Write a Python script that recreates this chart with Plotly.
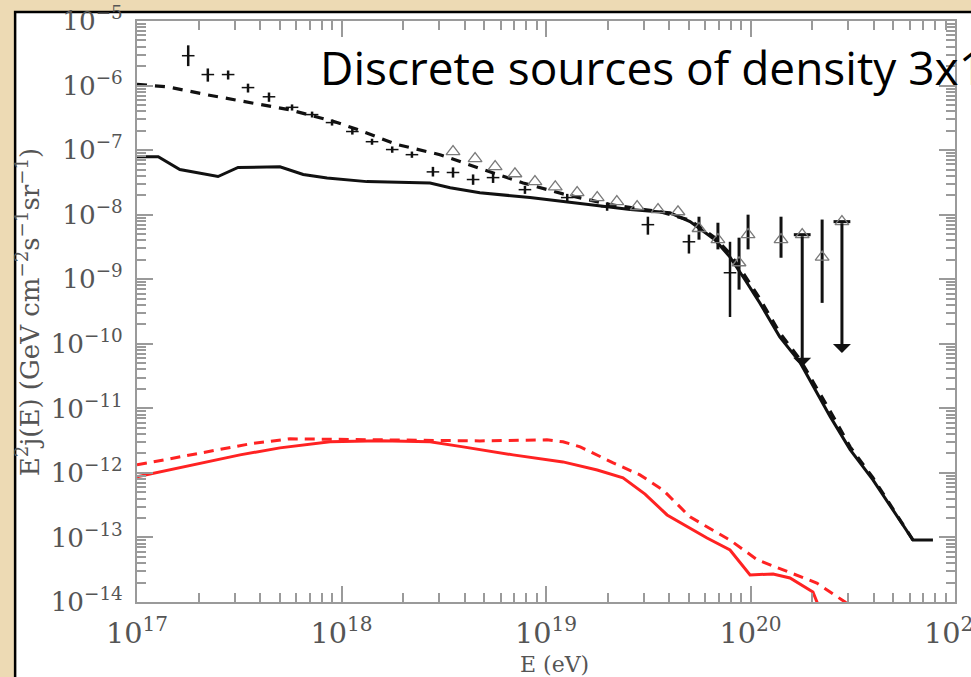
import numpy as np
import plotly.graph_objects as go

# ---------------- data ----------------
# black solid model
solid_E = [1.00e17, 1.27e17, 1.62e17, 2.49e17, 3.12e17, 5.0e17, 6.5e17, 8.5e17, 1.33e18,
           1.93e18, 2.71e18, 3.40e18, 4.75e18, 8.35e18, 1.47e19, 2.58e19, 4.04e19, 5.06e19,
           6.70e19, 7.94e19, 9.4e19, 1.11e20, 1.39e20, 1.75e20, 2.45e20, 3.07e20, 3.97e20,
           6.23e20, 7.8e20]
solid_F = [7.9e-8, 7.9e-8, 5.0e-8, 3.9e-8, 5.4e-8, 5.5e-8, 4.2e-8, 3.7e-8, 3.25e-8,
           3.15e-8, 3.1e-8, 2.62e-8, 2.19e-8, 1.84e-8, 1.48e-8, 1.20e-8, 1.07e-8, 7.8e-9,
           4.1e-9, 2.2e-9, 9.8e-10, 4.3e-10, 1.28e-10, 5.1e-11, 7.5e-12, 2.3e-12, 7.8e-13,
           9.1e-14, 9.1e-14]

# black dashed model
dashed_E = [1.00e17, 1.40e17, 2.20e17, 3.57e17, 5.6e17, 9.1e17, 1.19e18, 1.87e18, 3.03e18,
            4.92e18, 7.73e18, 1.21e19, 2.06e19, 3.61e19, 5.06e19, 6.70e19, 7.94e19, 9.4e19,
            1.11e20, 1.39e20, 1.75e20, 2.45e20, 3.07e20, 3.97e20, 6.23e20]
dashed_F = [1.04e-6, 9.6e-7, 7.2e-7, 5.4e-7, 4.2e-7, 2.8e-7, 2.1e-7, 1.22e-7, 8.5e-8,
            5.0e-8, 3.1e-8, 2.1e-8, 1.43e-8, 1.11e-8, 8.2e-9, 4.4e-9, 2.48e-9, 1.13e-9,
            5.0e-10, 1.48e-10, 5.65e-11, 9.1e-12, 2.53e-12, 8.4e-13, 9.1e-14]

# red solid model
red_solid_E = [1.00e17, 2.03e17, 3.19e17, 5.0e17, 8.79e17, 1.54e18, 2.71e18, 3.93e18, 6.90e18,
               1.21e19, 1.78e19, 2.38e19, 3.05e19, 3.91e19, 6.13e19, 7.94e19, 9.95e19, 1.29e20,
               1.56e20, 2.02e20, 2.24e20]
red_solid_F = [8.7e-13, 1.38e-12, 1.90e-12, 2.44e-12, 3.03e-12, 3.14e-12, 3.03e-12, 2.53e-12, 1.90e-12,
               1.48e-12, 1.11e-12, 8.4e-13, 4.7e-13, 2.23e-13, 9.8e-14, 6.4e-14, 2.62e-14, 2.72e-14,
               2.36e-14, 1.43e-14, 6.3e-15]

# red dashed model
red_dashed_E = [1.00e17, 2.03e17, 3.57e17, 5.6e17, 1.54e18, 4.75e18, 1.01e19, 1.21e19, 1.47e19,
                2.13e19, 2.88e19, 3.73e19, 5.06e19, 7.94e19, 1.08e20, 1.56e20, 2.11e20, 2.90e20,
                3.43e20]
red_dashed_F = [1.33e-12, 2.04e-12, 2.82e-12, 3.37e-12, 3.25e-12, 3.13e-12, 3.25e-12, 3.03e-12, 2.53e-12,
                1.43e-12, 9.3e-13, 5.45e-13, 2.08e-13, 9.1e-14, 4.5e-14, 2.82e-14, 1.97e-14, 1.0e-14,
                6.3e-15]

# data set 1 (crosses)
cross_E = [1.78e17, 2.22e17, 2.79e17, 3.49e17, 4.42e17, 5.73e17, 7.18e17, 8.99e17, 1.13e18,
           1.41e18, 1.77e18, 2.21e18, 2.80e18, 3.51e18, 4.40e18, 5.51e18, 7.89e18, 1.27e19,
           1.99e19, 3.15e19, 5.0e19, 7.94e19]
cross_F = [2.9e-6, 1.48e-6, 1.48e-6, 9.3e-7, 6.7e-7, 4.6e-7, 3.55e-7, 2.67e-7, 1.94e-7,
           1.35e-7, 1.02e-7, 8.5e-8, 4.6e-8, 4.5e-8, 3.5e-8, 3.75e-8, 2.44e-8, 1.84e-8,
           1.33e-8, 7.0e-9, 3.8e-9, 1.26e-9]
cross_hi = [4.2e-6, 1.84e-6, 1.71e-6, 1.07e-6, 7.8e-7, 5.1e-7, 3.95e-7, 2.97e-7, 2.16e-7,
            1.5e-7, 1.14e-7, 9.5e-8, 5.5e-8, 5.4e-8, 4.2e-8, 4.5e-8, 2.8e-8, 2.1e-8,
            1.55e-8, 9.3e-9, 4.9e-9, 3.8e-9]
cross_lo = [2.0e-6, 1.15e-6, 1.24e-6, 7.8e-7, 5.6e-7, 4.1e-7, 3.2e-7, 2.4e-7, 1.74e-7,
            1.21e-7, 9.1e-8, 7.6e-8, 3.9e-8, 3.75e-8, 2.9e-8, 3.1e-8, 2.1e-8, 1.6e-8,
            1.15e-8, 4.9e-9, 2.5e-9, 2.6e-10]

# data set 2 (open triangles)
tri_E = [3.51e18, 4.50e18, 5.64e18, 7.05e18, 8.83e18, 1.11e19, 1.42e19, 1.78e19, 2.22e19,
         2.79e19, 3.53e19, 4.42e19, 5.60e19, 6.93e19, 8.79e19, 9.73e19, 1.41e20, 2.24e20]
tri_F = [9.5e-8, 7.4e-8, 5.55e-8, 4.3e-8, 3.25e-8, 2.7e-8, 2.2e-8, 1.84e-8, 1.59e-8,
         1.33e-8, 1.2e-8, 1.11e-8, 6.1e-9, 4.1e-9, 1.8e-9, 4.9e-9, 4.1e-9, 2.2e-9]
tri_hi = [9.5e-8, 7.4e-8, 5.55e-8, 4.3e-8, 3.25e-8, 2.7e-8, 2.2e-8, 1.84e-8, 1.59e-8,
          1.33e-8, 1.2e-8, 1.11e-8, 9.3e-9, 7.5e-9, 4.4e-9, 1.0e-8, 9.3e-9, 8.4e-9]
tri_lo = [9.5e-8, 7.4e-8, 5.55e-8, 4.3e-8, 3.25e-8, 2.7e-8, 2.2e-8, 1.84e-8, 1.59e-8,
          1.33e-8, 1.2e-8, 1.11e-8, 4.1e-9, 2.9e-9, 6.9e-10, 2.9e-9, 2.15e-9, 4.3e-10]

# upper limits (triangle at top, arrow down)
ul_E = [1.79e20, 2.80e20]
ul_top = [4.9e-9, 7.8e-9]
ul_bottom = [4.4e-11, 7.2e-11]

x_range = [17, 21]
y_range = [-14, -5]
x_title = "E (eV)"
y_title = "E<sup>2</sup>j(E) (GeV cm<sup>−2</sup>s<sup>−1</sup>sr<sup>−1</sup>)"
title_text = "Discrete sources of density 3x10<sup>−5</sup> Mpc<sup>−3</sup>"

# ---------------- figure ----------------
BLACK = "#111111"
RED = "#FF2222"
AXC = "#9a9a9a"
TXT = "#555555"

fig = go.Figure()

fig.add_trace(go.Scatter(x=red_solid_E, y=red_solid_F, mode="lines",
                         line=dict(color=RED, width=3), showlegend=False))
fig.add_trace(go.Scatter(x=red_dashed_E, y=red_dashed_F, mode="lines",
                         line=dict(color=RED, width=3, dash="10px,7px"), showlegend=False))
fig.add_trace(go.Scatter(x=dashed_E, y=dashed_F, mode="lines",
                         line=dict(color=BLACK, width=3.2, dash="10px,8px"), showlegend=False))
fig.add_trace(go.Scatter(x=solid_E, y=solid_F, mode="lines",
                         line=dict(color=BLACK, width=3), showlegend=False))

cF = np.array(cross_F)
fig.add_trace(go.Scatter(
    x=cross_E, y=cross_F, mode="markers",
    marker=dict(symbol="line-ew", size=9, line=dict(color=BLACK, width=1.5)),
    error_y=dict(type="data", symmetric=False,
                 array=np.array(cross_hi) - cF, arrayminus=cF - np.array(cross_lo),
                 color=BLACK, thickness=2.5, width=0),
    showlegend=False))

tF = np.array(tri_F)
fig.add_trace(go.Scatter(
    x=tri_E, y=tri_F, mode="markers",
    marker=dict(symbol="triangle-up-open", size=12, color="#7a7a7a", line=dict(width=1.3)),
    error_y=dict(type="data", symmetric=False,
                 array=np.array(tri_hi) - tF, arrayminus=tF - np.array(tri_lo),
                 color=BLACK, thickness=3, width=0),
    showlegend=False))

fig.add_trace(go.Scatter(
    x=ul_E, y=ul_top, mode="markers",
    marker=dict(symbol="line-ew", size=12, line=dict(color=BLACK, width=3)),
    showlegend=False))
fig.add_trace(go.Scatter(
    x=ul_E, y=ul_top, mode="markers",
    marker=dict(symbol="triangle-up-open", size=12, color="#7a7a7a", line=dict(width=1.3)),
    showlegend=False))

annotations = []
for e, t, b in zip(ul_E, ul_top, ul_bottom):
    annotations.append(dict(x=np.log10(e), y=np.log10(b), ax=np.log10(e), ay=np.log10(t),
                            xref="x", yref="y", axref="x", ayref="y", text="",
                            showarrow=True, arrowhead=1, arrowsize=1.0, arrowwidth=3,
                            arrowcolor=BLACK))

annotations.append(dict(text=x_title, xref="paper", yref="paper", x=0.511, y=-0.108,
                        showarrow=False, font=dict(family="DejaVu Serif", size=22, color=TXT),
                        xanchor="center", yanchor="middle"))
annotations.append(dict(text=y_title, xref="paper", yref="paper", x=-0.133, y=0.499,
                        showarrow=False, font=dict(family="DejaVu Serif", size=26, color=TXT),
                        textangle=-90, xanchor="center", yanchor="middle"))
annotations.append(dict(text=title_text, xref="paper", yref="paper", x=0.221, y=0.925,
                        showarrow=False, xanchor="left", yanchor="middle",
                        font=dict(family="Open Sans", size=46, color="black")))

common_axis = dict(showgrid=False, zeroline=False, showline=True, linecolor=AXC, linewidth=2,
                   ticks="inside", ticklen=16, tickwidth=1.5, tickcolor=AXC, mirror="ticks",
                   dtick=1, exponentformat="power", showexponent="all",
                   ticklabeloverflow="allow", automargin=False,
                   minor=dict(ticks="inside", ticklen=9, tickwidth=1.5, tickcolor=AXC,
                              dtick="D1", showgrid=False))

fig.update_layout(
    width=971, height=677, autosize=False,
    margin=dict(l=137, r=16, t=21, b=75, autoexpand=False),
    paper_bgcolor="#EDDAB4", plot_bgcolor="white",
    xaxis=dict(type="log", range=x_range, ticklabelstandoff=6,
               tickfont=dict(family="DejaVu Serif", size=23, color=TXT), **common_axis),
    yaxis=dict(type="log", range=y_range, ticklabelstandoff=8,
               tickfont=dict(family="DejaVu Serif", size=21, color=TXT), **common_axis),
    annotations=annotations,
    shapes=[dict(type="rect", xref="paper", yref="paper", x0=-0.149, x1=1.05,
                 y0=-0.2, y1=1.0155, fillcolor="white",
                 line=dict(color="black", width=2.5), layer="below")],
)

fig.write_html("out.html", config={"displayModeBar": False})
